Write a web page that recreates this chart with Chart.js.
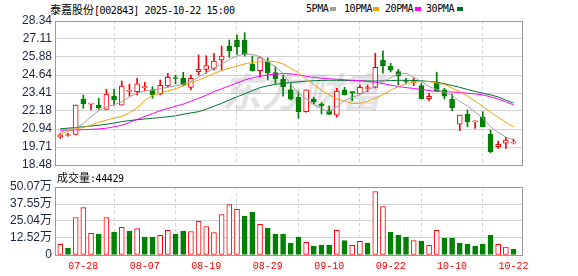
<!DOCTYPE html>
<html>
<head>
<meta charset="utf-8">
<script src="https://cdn.jsdelivr.net/npm/chart.js@4.4.1/dist/chart.umd.min.js"></script>
<style>
  body { margin: 0; background: #fff; width: 578px; height: 276px; overflow: hidden; position: relative;
         font-family: "DejaVu Sans Mono", "Noto Sans CJK SC", monospace; }
  canvas { position: absolute; left: 0; }
  #kline { top: 0; }
  #vol { top: 165px; }
  .t { position: absolute; font-size: 10px; line-height: 12px; color: #000; white-space: nowrap; letter-spacing: -0.4px; }
  .t .cn { font-family: "Noto Sans CJK SC"; font-size: 11px; letter-spacing: 0; }
  .sq { position: absolute; width: 6px; height: 4px; top: 7px; }
</style>
</head>
<body>
<div class="t" style="left:50px;top:3px"><span class="cn">泰嘉股份</span>[002843] 2025-10-22 15:00</div>
<div class="t" style="left:306px;top:3px">5PMA</div><div class="sq" style="left:330px;background:#a0a0a0"></div>
<div class="t" style="left:344px;top:3px">10PMA</div><div class="sq" style="left:373px;background:#f4a300"></div>
<div class="t" style="left:385px;top:3px">20PMA</div><div class="sq" style="left:415px;background:#ff00ff"></div>
<div class="t" style="left:426px;top:3px">30PMA</div><div class="sq" style="left:457px;background:#007030"></div>
<canvas id="kline" width="578" height="178"></canvas>
<canvas id="vol" width="578" height="111"></canvas>
<div class="t" style="left:57px;top:171px"><span class="cn">成交量</span>:44429</div>
<script>
// trading days 07-23 .. 10-22
var dates = ['07-23','07-24','07-25','07-28','07-29','07-30','07-31','08-01','08-04','08-05',
  '08-06','08-07','08-08','08-11','08-12','08-13','08-14','08-15','08-18','08-19',
  '08-20','08-21','08-22','08-25','08-26','08-27','08-28','08-29','09-01','09-02',
  '09-03','09-04','09-05','09-08','09-09','09-10','09-11','09-12','09-15','09-16',
  '09-17','09-18','09-19','09-22','09-23','09-24','09-25','09-26','09-29','09-30',
  '10-09','10-10','10-13','10-14','10-15','10-16','10-17','10-20','10-21','10-22']
var labelIdx = [3, 11, 19, 27, 35, 43, 51, 59]

var open = [20.38,20.50,20.58,23.00,22.65,22.59,22.29,23.20,22.57,23.52,
  23.50,23.78,23.62,23.34,23.89,24.45,24.42,23.80,24.87,25.03,
  25.10,25.67,26.63,27.04,27.04,25.38,24.94,25.55,24.80,24.35,
  23.62,23.12,22.13,22.99,22.66,22.20,21.90,23.62,23.50,23.34,
  23.72,23.80,25.67,25.26,24.87,24.25,24.12,23.91,23.02,24.14,
  23.62,23.00,21.27,21.95,21.43,21.75,20.60,19.73,19.97,20.00]
var high = [20.62,20.65,22.59,23.27,22.72,23.05,23.66,23.66,24.23,24.01,
  24.42,24.14,23.84,24.30,24.76,24.64,24.83,24.64,26.01,25.96,
  26.13,26.63,27.04,27.38,27.54,25.94,25.83,25.83,25.21,24.64,
  24.07,23.50,23.62,23.12,22.75,22.52,23.73,23.80,23.50,23.96,
  23.96,26.13,26.29,25.44,25.03,24.42,24.42,24.07,23.39,24.83,
  23.73,23.34,21.90,22.25,21.50,22.13,20.88,20.12,20.38,20.26]
var low = [20.30,20.45,20.55,22.36,22.25,22.29,22.29,22.59,22.57,23.20,
  23.27,23.57,23.05,23.30,23.85,24.03,23.90,23.62,24.64,24.76,
  24.98,24.98,25.85,26.06,25.94,24.90,24.49,24.30,24.07,23.20,
  22.93,21.68,22.10,22.66,21.97,21.95,21.75,23.27,22.88,23.34,
  23.50,23.75,24.76,24.85,23.96,24.03,23.91,23.00,22.88,23.50,
  23.00,22.20,20.83,21.10,20.99,21.08,19.32,19.62,19.62,19.92]
var close = [20.55,20.52,22.59,22.68,22.70,22.40,23.34,22.93,23.89,23.56,
  24.03,23.82,23.27,23.94,24.49,24.40,23.96,24.42,25.03,25.28,
  25.60,25.94,26.29,26.58,26.06,24.94,25.83,24.76,24.39,23.84,
  22.98,22.13,23.62,22.80,22.52,21.95,23.55,23.27,23.42,23.80,
  23.75,25.17,25.26,24.98,24.57,24.20,24.16,23.00,23.18,23.57,
  23.20,22.40,21.90,21.45,21.47,21.10,19.39,19.90,20.19,20.05]

var ma5 = [20.70,20.95,21.02,21.30,21.80,22.20,22.45,22.60,22.80,23.15,
  23.40,23.55,23.60,23.70,23.80,23.90,24.00,24.20,24.50,24.80,
  25.10,25.40,25.70,25.95,26.08,26.05,25.90,25.55,25.20,24.75,
  24.00,23.40,23.00,22.60,22.35,22.10,22.45,22.90,23.10,23.30,
  23.60,23.85,24.20,24.45,24.70,24.75,24.50,24.20,23.85,23.65,
  23.45,23.25,22.85,22.50,22.10,21.70,21.10,20.70,20.40,20.20]
var ma10 = [20.60,20.80,20.95,21.05,21.20,21.40,21.55,21.70,21.80,22.05,
  22.40,22.90,23.25,23.40,23.55,23.70,23.90,24.10,24.30,24.50,
  24.75,24.95,25.10,25.25,25.40,25.50,25.55,25.60,25.55,25.40,
  25.10,24.80,24.35,24.00,23.60,23.30,23.00,22.85,22.70,22.70,
  22.85,23.05,23.30,23.60,23.85,24.05,24.15,24.20,24.20,24.10,
  24.00,23.75,23.50,23.20,22.85,22.50,22.10,21.75,21.40,21.08]
var ma20 = [20.85,20.87,20.88,20.90,20.92,20.95,21.00,21.10,21.20,21.40,
  21.60,21.80,22.00,22.20,22.35,22.50,22.65,22.85,23.05,23.25,
  23.50,23.70,23.90,24.10,24.30,24.45,24.55,24.65,24.70,24.75,
  24.72,24.65,24.55,24.48,24.42,24.38,24.35,24.32,24.28,24.25,
  24.20,24.15,24.05,23.95,23.85,23.78,23.72,23.65,23.58,23.52,
  23.50,23.48,23.45,23.40,23.35,23.28,23.15,23.00,22.80,22.60]
var ma30 = [20.96,21.00,21.05,21.10,21.15,21.20,21.27,21.35,21.45,21.52,
  21.58,21.63,21.68,21.73,21.78,21.85,21.95,22.05,22.13,22.30,
  22.50,22.70,22.93,23.15,23.35,23.57,23.78,23.90,24.00,24.07,
  24.13,24.18,24.22,24.25,24.27,24.28,24.28,24.27,24.26,24.25,
  24.24,24.23,24.24,24.26,24.28,24.28,24.27,24.25,24.20,24.15,
  24.05,23.92,23.80,23.65,23.52,23.40,23.28,23.14,22.92,22.72]

// volume in 万手, and whether the bar is drawn red (up vs previous close)
var volume = [7.8,5.1,27.6,34.9,15.9,15.4,27.6,16.9,20.3,17.6,
  19.5,13.2,13.2,14.4,18.1,15.4,17.6,17.3,24.7,21.0,
  16.6,29.8,37.1,33.7,28.6,31.5,22.5,19.8,15.4,15.4,
  8.8,13.2,9.3,6.6,7.3,7.3,18.1,10.7,7.1,10.0,
  8.8,46.7,35.7,16.9,14.7,13.2,10.7,10.3,7.1,18.1,
  12.5,12.5,8.8,8.1,6.6,8.1,14.7,7.8,5.9,4.44]
var volUp = [1,0,1,1,1,0,1,0,1,0, 1,0,0,1,1,0,0,1,1,1,
  1,1,1,1,0,0,1,0,0,0, 0,0,1,0,0,0,1,0,1,1,
  0,1,1,0,0,0,1,0,1,1, 0,0,0,0,0,0,0,1,1,0]

var priceTicks = [28.34, 27.11, 25.88, 24.64, 23.41, 22.18, 20.94, 19.71, 18.48]
var volTicks = [50.07, 37.55, 25.04, 12.52, 0]

var RED = '#ff0000', GREEN = '#008000'
var GRID = '#d2d2d2'
var labelFont = { family: '"Liberation Sans", "Noto Sans CJK SC"', size: 12 }
var labelColor = '#1c2541'

function pts(arr) {
  return arr.map(function (v, i) { return { x: i, y: v } })
}

function maLine(arr, color) {
  return { type: 'line', data: pts(arr), borderColor: color, borderWidth: 1, pointRadius: 0, order: 0 }
}

var frame = {
  id: 'frame',
  afterDraw: function (chart) {
    var a = chart.chartArea, ctx = chart.ctx
    ctx.save()
    ctx.strokeStyle = '#999'
    ctx.lineWidth = 1
    ctx.strokeRect(Math.round(a.left) - 0.5, Math.round(a.top) + 0.5, Math.round(a.right - a.left) + 1, Math.round(a.bottom - a.top))
    ctx.restore()
  }
}

var watermark = {
  id: 'watermark',
  beforeDatasetsDraw: function (chart) {
    var a = chart.chartArea, ctx = chart.ctx
    ctx.save()
    ctx.font = 'italic bold 40px "Noto Sans CJK SC"'
    ctx.fillStyle = 'rgba(140,140,160,0.25)'
    ctx.textBaseline = 'alphabetic'
    ctx.fillText('东方财富', a.left + (a.right - a.left) * 0.355, a.top + (a.bottom - a.top) * 0.6)
    ctx.restore()
  }
}

var xMin = -0.56, xMax = 60.1

var up = close.map(function (c, i) { return c >= open[i] })

new Chart(document.getElementById('kline'), {
  type: 'bar',
  data: {
    datasets: [
      maLine(ma5, '#a0a0a0'),
      maLine(ma10, '#f4a300'),
      maLine(ma20, '#ff00ff'),
      maLine(ma30, '#007030'),
      {
        data: open.map(function (o, i) { return { x: i, y: [o, close[i]] } }),
        backgroundColor: up.map(function (u) { return u ? '#ffffff' : GREEN }),
        borderColor: up.map(function (u) { return u ? RED : GREEN }),
        borderWidth: 1,
        borderSkipped: false,
        barThickness: 5,
        minBarLength: 1,
        grouped: false,
        order: 1
      },
      {
        data: low.map(function (l, i) { return { x: i, y: [l, high[i]] } }),
        backgroundColor: up.map(function (u) { return u ? RED : GREEN }),
        borderWidth: 0,
        barThickness: 1,
        grouped: false,
        order: 2
      }
    ]
  },
  options: {
    responsive: false,
    animation: false,
    layout: { padding: { top: 21, right: 56, bottom: 13, left: 0 } },
    plugins: { legend: { display: false }, tooltip: { enabled: false } },
    scales: {
      x: {
        type: 'linear', min: xMin, max: xMax, offset: false,
        afterBuildTicks: function (s) { s.ticks = labelIdx.map(function (v) { return { value: v } }) },
        afterFit: function (s) { s.height = 0 },
        ticks: { display: false, autoSkip: false },
        grid: { color: GRID, drawTicks: false },
        border: { display: false, dash: [3, 3] }
      },
      y: {
        min: 18.48, max: 28.34,
        afterBuildTicks: function (s) { s.ticks = priceTicks.map(function (v) { return { value: v } }) },
        afterFit: function (s) { s.width = 56 },
        ticks: { padding: 4, autoSkip: false, font: labelFont, color: labelColor, callback: function (v) { return v.toFixed(2) } },
        grid: { color: GRID, drawTicks: false },
        border: { display: false }
      }
    }
  },
  plugins: [watermark, frame]
})

new Chart(document.getElementById('vol'), {
  type: 'bar',
  data: {
    datasets: [{
      data: pts(volume),
      backgroundColor: volUp.map(function (u) { return u ? '#ffffff' : GREEN }),
      borderColor: volUp.map(function (u) { return u ? RED : GREEN }),
      borderWidth: 1,
      borderSkipped: false,
      barThickness: 5,
      grouped: false
    }]
  },
  options: {
    responsive: false,
    animation: false,
    layout: { padding: { top: 22, right: 56, bottom: 0, left: 0 } },
    plugins: { legend: { display: false }, tooltip: { enabled: false } },
    scales: {
      x: {
        type: 'linear', min: xMin, max: xMax, offset: false,
        afterBuildTicks: function (s) { s.ticks = labelIdx.map(function (v) { return { value: v } }) },
        afterFit: function (s) { s.height = 21 },
        ticks: {
          padding: 5, autoSkip: false, maxRotation: 0, color: RED,
          font: { family: '"Liberation Mono", "DejaVu Sans Mono"', size: 10 },
          callback: function (v) { return dates[v] }
        },
        grid: { color: GRID, drawTicks: false },
        border: { display: false, dash: [3, 3] }
      },
      y: {
        min: 0, max: 50.07,
        afterBuildTicks: function (s) { s.ticks = volTicks.map(function (v) { return { value: v } }) },
        afterFit: function (s) { s.width = 56 },
        ticks: { padding: 4, autoSkip: false, font: labelFont, color: labelColor,
          callback: function (v) { return v === 0 ? '0' : v.toFixed(2) + '万' } },
        grid: { color: GRID, drawTicks: false },
        border: { display: false }
      }
    }
  },
  plugins: [frame]
})
</script>
</body>
</html>
